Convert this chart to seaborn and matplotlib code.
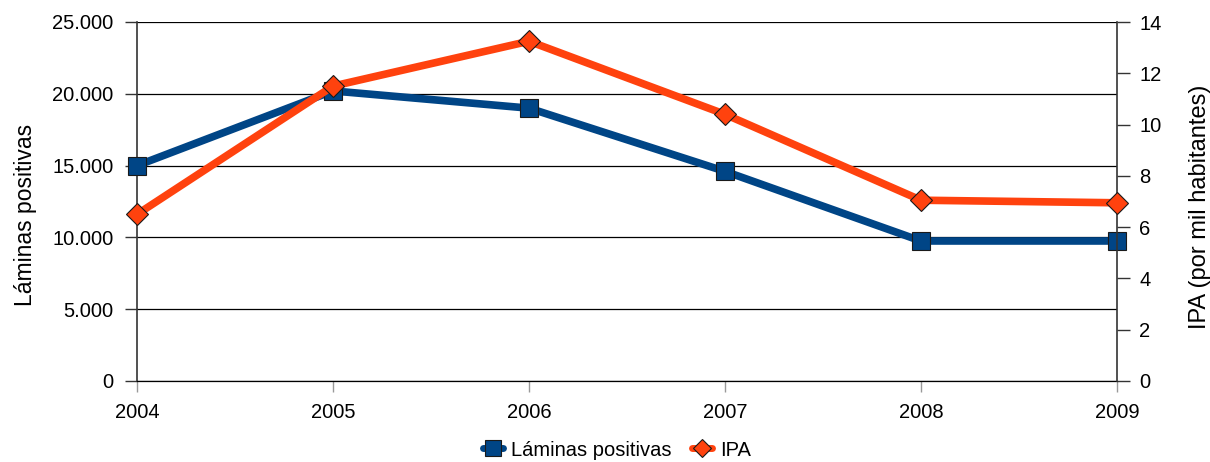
import matplotlib
matplotlib.use("Agg")
import matplotlib.pyplot as plt
import seaborn as sns
import pandas as pd
from matplotlib.lines import Line2D

# Yearly series
years = [2004, 2005, 2006, 2007, 2008, 2009]
laminas_positivas = [15000, 20200, 19000, 14600, 9750, 9750]
ipa = [6.5, 11.5, 13.25, 10.4, 7.05, 6.95]
left_ticks = [0, 5000, 10000, 15000, 20000, 25000]
left_tick_labels = ["0", "5.000", "10.000", "15.000", "20.000", "25.000"]
right_ticks = [0, 2, 4, 6, 8, 10, 12, 14]

sns.set_style("white")
plt.rcParams["font.family"] = ["Liberation Sans", "DejaVu Sans"]
plt.rcParams["text.color"] = "black"
plt.rcParams["axes.labelcolor"] = "black"
plt.rcParams["xtick.color"] = "black"
plt.rcParams["ytick.color"] = "black"

BLUE = "#004586"
ORANGE = "#ff420e"

df = pd.DataFrame({"year": years, "laminas": laminas_positivas, "ipa": ipa})

fig = plt.figure(figsize=(12.1, 4.62), dpi=100)
ax = fig.add_axes([137 / 1210, 1 - 381 / 462, (1117 - 137) / 1210, (381 - 22) / 462])
ax2 = ax.twinx()

sns.lineplot(data=df, x="year", y="laminas", ax=ax, color=BLUE, linewidth=5.5,
             marker="s", markersize=13.5, markeredgecolor="#1a1a1a",
             markeredgewidth=0.8, clip_on=False, zorder=3)
sns.lineplot(data=df, x="year", y="ipa", ax=ax2, color=ORANGE, linewidth=5.5,
             marker="D", markersize=11, markeredgecolor="#1a1a1a",
             markeredgewidth=0.8, clip_on=False, zorder=3)

ax.set_xlim(2004, 2009)
ax.set_ylim(0, 25000)
ax2.set_ylim(0, 14)
ax.set_xticks(years)
ax.set_xticklabels([str(y) for y in years])
ax.set_yticks(left_ticks)
ax.set_yticklabels(left_tick_labels)
ax2.set_yticks(right_ticks)

ax.yaxis.grid(True, color="black", linewidth=0.9)
ax.set_axisbelow(True)

for a in (ax, ax2):
    for s in ("top", "bottom", "left", "right"):
        a.spines[s].set_visible(False)
ax.spines["left"].set_visible(True)
ax.spines["left"].set_color("#333333")
ax.spines["left"].set_linewidth(1.2)
ax.spines["bottom"].set_visible(True)
ax.spines["bottom"].set_color("black")
ax.spines["bottom"].set_linewidth(0.9)
ax2.spines["right"].set_visible(True)
ax2.spines["right"].set_color("#333333")
ax2.spines["right"].set_linewidth(1.2)

ax.tick_params(axis="y", direction="out", length=9, width=1, color="#333333",
               labelsize=14.5, pad=8, left=True, labelcolor="black")
ax.tick_params(axis="x", direction="out", length=8, width=1, color="#999999",
               labelsize=14.5, pad=8, bottom=True, labelcolor="black")
ax2.tick_params(axis="y", direction="out", length=9, width=1, color="#333333",
                labelsize=14.5, pad=7, right=True, labelcolor="black")

ax.set_xlabel("")
ax.set_ylabel("Láminas positivas", fontsize=16.5, labelpad=11, color="black")
ax2.set_ylabel("IPA (por mil habitantes)", fontsize=17, labelpad=20, color="black")
ax.yaxis.label.set_y(0.462)
ax2.yaxis.label.set_y(0.485)

handles = [
    Line2D([], [], color=BLUE, linewidth=5, marker="s", markersize=11,
           markeredgecolor="#1a1a1a", markeredgewidth=0.8),
    Line2D([], [], color=ORANGE, linewidth=5, marker="D", markersize=9,
           markeredgecolor="#1a1a1a", markeredgewidth=0.8),
]
fig.legend(handles, ["Láminas positivas", "IPA"], loc="center",
           bbox_to_anchor=(617 / 1210, 1 - 450 / 462), ncol=2, frameon=False,
           fontsize=14.5, handlelength=1.0, handletextpad=0.4, columnspacing=1.0)

fig.savefig("out.png", dpi=100)
